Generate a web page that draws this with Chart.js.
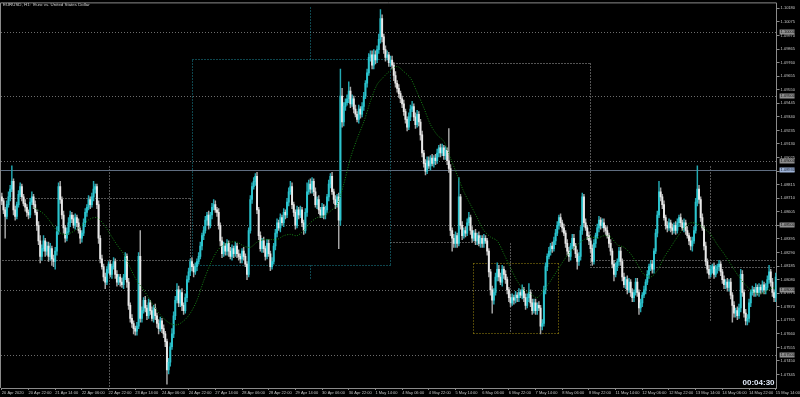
<!DOCTYPE html>
<html>
<head>
<meta charset="utf-8">
<title>EURUSD H1</title>
<script src="https://cdn.jsdelivr.net/npm/chart.js@4.4.1/dist/chart.umd.min.js"></script>
<style>
  html, body { margin: 0; padding: 0; background: #000; }
  #wrap { width: 800px; height: 397px; }
</style>
</head>
<body>
<div id="wrap"><canvas id="chart" width="800" height="397"></canvas></div>
<script>
// EURUSD H1, one close per hourly bar, from 20 Apr 2020 06:00 to 15 May 2020 14:00
const firstOpen = 1.0872;
const closes = [
  1.0869, 1.0862, 1.0857, 1.0866, 1.0872, 1.0878, 1.0884, 1.0862, 1.0857, 1.0866, 1.0874, 1.0880, 1.0872, 1.0867, 1.0864, 1.0860,
  1.0858, 1.0868, 1.0872, 1.0866, 1.0860, 1.0850, 1.0838, 1.0826, 1.0832, 1.0838, 1.0830, 1.0834, 1.0826, 1.0832, 1.0824, 1.0822,
  1.0830, 1.0845, 1.0880, 1.0870, 1.0858, 1.0848, 1.0840, 1.0845, 1.0852, 1.0858, 1.0855, 1.0850, 1.0856, 1.0852, 1.0846, 1.0840,
  1.0844, 1.0852, 1.0860, 1.0864, 1.0870, 1.0866, 1.0872, 1.0878, 1.0880, 1.0866, 1.0840, 1.0824, 1.0818, 1.0810, 1.0806, 1.0816,
  1.0820, 1.0812, 1.0818, 1.0822, 1.0812, 1.0806, 1.0810, 1.0806, 1.0804, 1.0810, 1.0826, 1.0806, 1.0788, 1.0778, 1.0774, 1.0770,
  1.0768, 1.0772, 1.0826, 1.0778, 1.0784, 1.0792, 1.0786, 1.0780, 1.0790, 1.0784, 1.0778, 1.0786, 1.0780, 1.0774, 1.0770, 1.0776,
  1.0770, 1.0766, 1.0760, 1.0738, 1.0744, 1.0756, 1.0766, 1.0780, 1.0792, 1.0800, 1.0790, 1.0798, 1.0788, 1.0784, 1.0794, 1.0808,
  1.0814, 1.0822, 1.0818, 1.0814, 1.0818, 1.0822, 1.0826, 1.0834, 1.0842, 1.0846, 1.0854, 1.0858, 1.0850, 1.0858, 1.0864, 1.0866,
  1.0862, 1.0860, 1.0850, 1.0838, 1.0828, 1.0834, 1.0830, 1.0836, 1.0830, 1.0826, 1.0832, 1.0828, 1.0834, 1.0828, 1.0826, 1.0824,
  1.0830, 1.0826, 1.0820, 1.0812, 1.0846, 1.0870, 1.0880, 1.0884, 1.0888, 1.0862, 1.0842, 1.0832, 1.0838, 1.0832, 1.0826, 1.0836,
  1.0828, 1.0818, 1.0822, 1.0834, 1.0844, 1.0852, 1.0848, 1.0856, 1.0852, 1.0860, 1.0858, 1.0868, 1.0876, 1.0880, 1.0866, 1.0860,
  1.0850, 1.0862, 1.0858, 1.0862, 1.0852, 1.0846, 1.0860, 1.0876, 1.0882, 1.0878, 1.0884, 1.0876, 1.0866, 1.0870, 1.0862, 1.0858,
  1.0864, 1.0858, 1.0862, 1.0872, 1.0882, 1.0888, 1.0876, 1.0870, 1.0866, 1.0872, 1.0854, 1.0950, 1.0930, 1.0942, 1.0945, 1.0948,
  1.0954, 1.0944, 1.0948, 1.0940, 1.0936, 1.0932, 1.0940, 1.0936, 1.0942, 1.0950, 1.0960, 1.0968, 1.0980, 1.0982, 1.0974, 1.0982,
  1.0978, 1.0986, 1.0994, 1.1010, 1.0996, 1.0986, 1.0980, 1.0982, 1.0976, 1.0978, 1.0974, 1.0966, 1.0960, 1.0956, 1.0952, 1.0948,
  1.0944, 1.0938, 1.0932, 1.0926, 1.0934, 1.0940, 1.0942, 1.0934, 1.0928, 1.0936, 1.0930, 1.0920, 1.0906, 1.0898, 1.0892, 1.0900,
  1.0896, 1.0902, 1.0898, 1.0902, 1.0900, 1.0906, 1.0910, 1.0906, 1.0910, 1.0904, 1.0908, 1.0900, 1.0894, 1.0846, 1.0840, 1.0836,
  1.0842, 1.0836, 1.0872, 1.0850, 1.0842, 1.0846, 1.0844, 1.0852, 1.0856, 1.0846, 1.0840, 1.0844, 1.0838, 1.0842, 1.0836, 1.0840,
  1.0836, 1.0840, 1.0838, 1.0830, 1.0814, 1.0800, 1.0792, 1.0798, 1.0810, 1.0816, 1.0810, 1.0806, 1.0816, 1.0812, 1.0808, 1.0800,
  1.0794, 1.0790, 1.0794, 1.0792, 1.0796, 1.0794, 1.0798, 1.0796, 1.0800, 1.0794, 1.0788, 1.0794, 1.0798, 1.0790, 1.0784, 1.0790,
  1.0784, 1.0788, 1.0786, 1.0772, 1.0774, 1.0800, 1.0818, 1.0826, 1.0830, 1.0834, 1.0832, 1.0838, 1.0844, 1.0850, 1.0856, 1.0852,
  1.0848, 1.0844, 1.0836, 1.0830, 1.0826, 1.0834, 1.0840, 1.0834, 1.0828, 1.0822, 1.0826, 1.0846, 1.0872, 1.0852, 1.0848, 1.0842,
  1.0838, 1.0832, 1.0822, 1.0836, 1.0842, 1.0848, 1.0854, 1.0850, 1.0852, 1.0848, 1.0846, 1.0842, 1.0836, 1.0830, 1.0820, 1.0812,
  1.0818, 1.0822, 1.0830, 1.0822, 1.0810, 1.0804, 1.0808, 1.0800, 1.0806, 1.0798, 1.0794, 1.0798, 1.0806, 1.0798, 1.0786, 1.0790,
  1.0796, 1.0800, 1.0806, 1.0812, 1.0818, 1.0820, 1.0816, 1.0830, 1.0844, 1.0858, 1.0876, 1.0872, 1.0866, 1.0856, 1.0850, 1.0848,
  1.0852, 1.0848, 1.0846, 1.0850, 1.0846, 1.0852, 1.0856, 1.0852, 1.0848, 1.0852, 1.0846, 1.0842, 1.0838, 1.0834, 1.0838, 1.0846,
  1.0868, 1.0878, 1.0870, 1.0856, 1.0848, 1.0834, 1.0822, 1.0816, 1.0812, 1.0816, 1.0818, 1.0812, 1.0816, 1.0818, 1.0820, 1.0814,
  1.0808, 1.0804, 1.0806, 1.0802, 1.0806, 1.0796, 1.0788, 1.0782, 1.0784, 1.0780, 1.0786, 1.0812, 1.0798, 1.0782, 1.0776, 1.0778,
  1.0790, 1.0798, 1.0800, 1.0798, 1.0802, 1.0798, 1.0802, 1.0800, 1.0804, 1.0800, 1.0802, 1.0808, 1.0814, 1.0806, 1.0798, 1.0794, 1.0810
];
// wick lengths in pips, above and below the candle body
const highWicks = [
  3,2,2,3,4,3,12,2,3,2,3,3,2,2,3,2,  2,3,4,2,3,2,3,4,3,4,2,3,3,4,2,3,
  3,4,3,4,2,3,2,3,4,3,2,3,3,2,3,2,   2,3,3,2,3,2,3,6,2,2,3,2,3,2,3,2,
  2,3,2,3,2,3,2,2,3,2,3,2,3,2,3,2,   2,3,3,20,3,2,3,2,3,2,3,2,3,2,3,3,
  2,3,2,2,3,3,4,3,3,5,3,2,3,2,3,3,   3,2,3,2,3,2,3,3,2,3,3,2,3,2,3,4,
  3,2,3,2,3,3,2,3,2,3,3,2,3,2,3,2,   2,3,2,2,2,3,3,3,2,3,2,3,2,3,2,3,
  3,2,3,2,3,3,2,3,2,3,2,3,3,4,3,2,   2,3,2,3,2,2,3,7,3,4,3,2,3,2,3,2,
  3,2,3,2,3,2,3,2,3,2,3,21,6,3,3,3,  7,3,3,2,3,2,3,2,3,3,2,3,3,3,3,4,
  3,3,4,7,3,2,3,3,2,3,3,2,3,2,3,2,   2,3,2,2,3,3,4,2,3,3,2,2,3,2,3,3,
  3,2,3,2,3,3,2,3,3,2,3,2,25,3,2,3,  3,2,15,2,3,2,3,3,4,2,3,2,3,2,3,2,
  2,3,2,2,2,2,3,3,3,5,3,3,3,2,3,2,   2,3,3,2,3,2,3,2,4,2,3,3,7,2,3,3,
  3,2,3,2,3,3,3,2,3,2,3,3,3,3,2,3,   2,3,2,3,3,2,3,3,2,3,3,3,3,2,3,2,
  3,2,3,3,2,3,3,2,3,3,2,3,2,3,2,3,   3,2,3,3,2,3,2,3,3,2,3,2,3,3,2,3,
  2,3,2,3,2,3,3,2,3,3,8,3,2,3,2,3,   3,2,3,2,3,3,2,3,2,3,2,3,2,3,3,3,
  3,18,3,2,3,2,3,2,3,3,2,3,3,2,3,2,  2,3,2,3,2,3,2,3,2,3,3,4,3,2,3,3,
  3,2,3,2,3,2,3,2,3,2,3,3,5,2,3,2,3
];
const lowWicks = [
  3,3,17,2,2,3,2,4,3,2,2,2,3,2,3,3,  3,2,2,3,2,4,3,5,3,2,4,3,4,3,5,4,
  6,3,2,3,3,4,3,2,2,3,3,2,3,3,2,4,   3,2,3,3,2,3,2,3,3,3,4,3,2,3,5,2,
  3,2,3,2,3,3,2,3,2,3,2,4,3,3,3,4,   3,3,2,3,3,2,3,3,2,3,2,3,3,3,4,2,
  3,3,4,11,3,3,2,3,3,2,3,3,4,3,2,3,  2,3,3,4,2,3,2,2,3,3,2,4,3,2,3,2,
  2,3,3,4,3,2,3,3,4,2,3,3,2,3,3,3,   3,3,2,4,2,2,3,2,3,3,3,2,3,3,3,2,
  2,3,2,2,3,3,2,3,2,3,3,2,3,2,3,3,   3,2,3,2,3,3,2,3,2,3,3,3,2,3,3,2,
  2,3,3,2,3,3,2,3,3,2,22,4,4,3,3,2,  3,3,2,3,2,2,3,3,2,3,2,3,2,3,3,3,
  3,2,3,3,4,3,3,2,3,3,3,4,3,3,3,3,   3,3,3,3,2,3,2,3,3,2,3,4,3,3,3,2,
  2,3,2,3,3,2,3,3,2,3,3,3,3,4,10,3,  3,3,2,3,3,2,3,2,2,3,3,2,3,3,2,3,
  3,3,2,3,4,4,10,3,2,3,3,2,3,3,3,3,  3,3,2,3,2,3,3,2,3,3,3,2,3,3,3,2,
  3,3,2,6,3,2,3,3,2,3,3,2,3,2,3,3,   3,2,3,3,4,3,2,3,3,6,3,3,3,3,2,3,
  3,3,3,2,3,2,3,3,2,3,3,2,3,3,3,5,   2,3,3,3,3,2,3,3,2,3,3,3,2,3,5,3,
  3,2,3,2,3,3,3,3,2,3,2,3,3,2,3,3,   2,3,3,2,3,2,3,3,2,3,3,2,3,3,4,2,
  2,3,3,3,2,3,3,3,3,2,3,3,2,3,3,3,   3,3,3,3,3,3,13,3,3,3,2,3,3,3,3,3,
  3,3,2,3,3,2,3,3,2,3,3,2,3,3,3,3,3
];

// moving average (bar index -> value)
const maBars = [19, 25, 29, 33, 37, 41, 45, 49, 53, 57, 61, 65, 69, 73, 77, 81, 85, 89, 93, 97,
  101, 105, 109, 113, 117, 121, 125, 129, 133, 137, 141, 145, 149, 153, 157, 161, 165, 169, 173, 177,
  181, 185, 189, 193, 197, 201, 205, 209, 213, 217, 221, 225, 229, 233, 237, 241, 245, 249, 253, 257,
  261, 265, 269, 273, 277, 281, 285, 289, 293, 297, 301, 305, 309, 313, 317, 321, 325, 329, 333, 337,
  341, 345, 349, 353, 357, 361, 365, 369, 373, 377, 381, 385, 389, 393, 397, 401, 405, 409, 413, 417,
  421, 425, 429, 433, 437, 441, 445, 449, 453, 457, 461, 464];
const maValues = [1.0864, 1.0859, 1.0853, 1.0846, 1.0843, 1.0844, 1.0847, 1.0851, 1.0855, 1.0856, 1.0851, 1.0843, 1.0835, 1.0828, 1.0817, 1.0807, 1.0800, 1.0792, 1.0784, 1.0778,
  1.0774, 1.0773, 1.0776, 1.0782, 1.0792, 1.0807, 1.0820, 1.0830, 1.0835, 1.0837, 1.0837, 1.0834, 1.0833, 1.0837, 1.0839, 1.0839, 1.0839, 1.0842, 1.0843, 1.0842,
  1.0846, 1.0852, 1.0856, 1.0857, 1.0861, 1.0866, 1.0882, 1.0902, 1.0917, 1.0930, 1.0946, 1.0959, 1.0965, 1.0970, 1.0973, 1.0969, 1.0964, 1.0953, 1.0941, 1.0928,
  1.0920, 1.0915, 1.0902, 1.0889, 1.0876, 1.0866, 1.0856, 1.0846, 1.0841, 1.0838, 1.0828, 1.0817, 1.0807, 1.0800, 1.0797, 1.0794, 1.0800, 1.0807, 1.0815, 1.0823,
  1.0830, 1.0835, 1.0839, 1.0841, 1.0840, 1.0842, 1.0841, 1.0835, 1.0833, 1.0828, 1.0820, 1.0812, 1.0810, 1.0815, 1.0825, 1.0833, 1.0841, 1.0848, 1.0852, 1.0851,
  1.0848, 1.0843, 1.0835, 1.0828, 1.0820, 1.0812, 1.0805, 1.0800, 1.0797, 1.0798, 1.0801, 1.0802];

// time axis labels, one every 16 bars
const timeLabels = ['20 Apr 2020', '20 Apr 22:00', '21 Apr 14:00', '22 Apr 06:00', '22 Apr 22:00', '23 Apr 14:00',
  '24 Apr 06:00', '24 Apr 22:00', '27 Apr 14:00', '28 Apr 06:00', '28 Apr 22:00', '29 Apr 14:00', '30 Apr 06:00',
  '30 Apr 22:00', '1 May 14:00', '4 May 06:00', '4 May 22:00', '5 May 14:00', '6 May 06:00', '6 May 22:00',
  '7 May 14:00', '8 May 06:00', '8 May 22:00', '11 May 14:00', '12 May 06:00', '12 May 22:00', '13 May 14:00',
  '14 May 06:00', '14 May 22:00', '15 May 14:00'];
const priceTicks = [1.07345, 1.07450, 1.07555, 1.07660, 1.07765, 1.07870, 1.07975, 1.08080, 1.08185, 1.08290,
  1.08395, 1.08500, 1.08605, 1.08710, 1.08815, 1.08920, 1.09025, 1.09130, 1.09235, 1.09340,
  1.09445, 1.09550, 1.09655, 1.09760, 1.09865, 1.09970, 1.10075, 1.10180];

// horizontal levels (dotted, grey label) and the solid line (blue label)
const levels = [1.10000, 1.09500, 1.09000, 1.08500, 1.08000, 1.07500];
const lineLevel = 1.08930;

// drawn objects, as [bar, price, bar, price]
const greySegments = [
  [0, 1.08710, 112.7, 1.08710], [112.7, 1.08710, 112.7, 1.08202],
  [64.2, 1.08956, 64.2, 1.0724],
  [0, 1.08235, 113.8, 1.08235],
  [232.6, 1.09756, 352.4, 1.09756], [352.4, 1.09756, 352.4, 1.08180], [232.6, 1.08374, 290.7, 1.08374],
  [352.4, 1.08233, 464.5, 1.08233], [352.4, 1.08180, 464.5, 1.08180],
  [304.5, 1.08366, 304.5, 1.07664],
  [424.3, 1.08956, 424.3, 1.07750]
];
const tealSegments = [
  [113.8, 1.09787, 232.6, 1.09787], [232.6, 1.09787, 232.6, 1.08192],
  [232.6, 1.08192, 113.8, 1.08192], [113.8, 1.08192, 113.8, 1.09787],
  [184.6, 1.10187, 184.6, 1.09787], [184.6, 1.08192, 184.6, 1.08092]
];
const oliveSegments = [
  [282.3, 1.08208, 333.2, 1.08208], [333.2, 1.08208, 333.2, 1.07669],
  [333.2, 1.07669, 282.3, 1.07669], [282.3, 1.07669, 282.3, 1.08208]
];

const pip = 0.0001;
const opens = closes.map((c, i) => i === 0 ? firstOpen : closes[i - 1]);
const isBull = closes.map((c, i) => c >= opens[i]);
const bodies = closes.map((c, i) => [Math.min(opens[i], c), Math.max(opens[i], c)]);
const wicks = closes.map((c, i) => [Math.min(opens[i], c) - lowWicks[i] * pip, Math.max(opens[i], c) + highWicks[i] * pip]);
const maData = closes.map(() => null);
maBars.forEach((b, k) => { maData[b] = maValues[k]; });

const FONT = 'Liberation Sans';

// objects, labels on the price scale, title and countdown
const mtPlugin = {
  id: 'mtObjects',
  beforeDatasetsDraw(chart) {
    const { ctx, chartArea: a, scales: { x, y } } = chart;
    const px = v => Math.round(x.getPixelForValue(v)) + 0.5;
    const py = v => Math.round(y.getPixelForValue(v)) + 0.5;
    ctx.save();
    ctx.beginPath();
    ctx.rect(a.left, a.top, a.right - a.left, a.bottom - a.top);
    ctx.clip();
    ctx.lineWidth = 1;

    ctx.setLineDash([1, 2]);
    ctx.strokeStyle = '#6c6c6c';
    levels.forEach(p => {
      ctx.beginPath(); ctx.moveTo(a.left, py(p)); ctx.lineTo(a.right, py(p)); ctx.stroke();
    });

    const drawSegs = (segs, color) => {
      ctx.strokeStyle = color;
      segs.forEach(s => {
        ctx.beginPath();
        ctx.moveTo(px(s[0]), py(s[1]));
        ctx.lineTo(px(s[2]), py(s[3]));
        ctx.stroke();
      });
    };
    drawSegs(greySegments, '#a8a8a8');
    drawSegs(tealSegments, '#1d8c9c');
    drawSegs(oliveSegments, '#a08c10');

    ctx.setLineDash([]);
    ctx.strokeStyle = '#5f6d80';
    ctx.beginPath(); ctx.moveTo(a.left, py(lineLevel)); ctx.lineTo(a.right, py(lineLevel)); ctx.stroke();
    ctx.restore();
  },
  afterDraw(chart) {
    const { ctx, chartArea: a, scales: { y } } = chart;
    ctx.save();
    // frame
    ctx.strokeStyle = '#8a8a8a';
    ctx.lineWidth = 1;
    ctx.beginPath();
    ctx.moveTo(a.left - 0.5, a.bottom);
    ctx.lineTo(a.left - 0.5, a.top - 0.5);
    ctx.lineTo(a.right, a.top - 0.5);
    ctx.stroke();

    // price boxes
    ctx.font = '4px "' + FONT + '"';
    ctx.textBaseline = 'middle';
    ctx.textAlign = 'left';
    const box = (p, fill, text) => {
      const yy = Math.round(y.getPixelForValue(p));
      ctx.fillStyle = fill;
      ctx.fillRect(a.right + 3, yy - 2.5, 15, 5);
      ctx.fillStyle = text;
      ctx.fillText(p.toFixed(5), a.right + 4, yy + 0.3);
    };
    levels.forEach(p => box(p, '#8f8f8f', '#101010'));
    box(lineLevel, '#9fb4d8', '#101828');

    // title
    ctx.fillStyle = '#d0d0d0';
    ctx.textBaseline = 'top';
    ctx.font = '4.4px "' + FONT + '"';
    ctx.fillText('EURUSD, H1:  Euro vs. United States Dollar', 3, 3);

    // bar countdown
    ctx.font = 'bold 8px "' + FONT + '"';
    ctx.textAlign = 'right';
    ctx.textBaseline = 'alphabetic';
    ctx.fillStyle = '#dfe8f7';
    ctx.fillText('00:04:30', a.right - 2, a.bottom - 3);
    ctx.restore();
  }
};

new Chart(document.getElementById('chart'), {
  type: 'bar',
  data: {
    labels: closes.map((_, i) => String(i)),
    datasets: [
      {
        type: 'line',
        data: maData,
        spanGaps: true,
        borderColor: '#168516',
        borderWidth: 1,
        borderDash: [1, 1.5],
        pointRadius: 0,
        tension: 0.3,
        order: 1
      },
      {
        data: bodies,
        grouped: false,
        barThickness: 1.3,
        minBarLength: 1,
        backgroundColor: isBull.map(b => b ? '#2cc4ce' : '#e8e8e8'),
        order: 2
      },
      {
        data: wicks,
        grouped: false,
        barThickness: 0.8,
        backgroundColor: isBull.map(b => b ? '#23a9b3' : '#a8a8a8'),
        order: 3
      }
    ]
  },
  options: {
    responsive: false,
    animation: false,
    events: [],
    layout: { padding: { left: 1, top: 1, right: 0, bottom: 0 } },
    plugins: { legend: { display: false }, tooltip: { enabled: false } },
    scales: {
      x: {
        offset: true,
        grid: { display: true, drawOnChartArea: false, drawTicks: true, tickLength: 2, color: '#8a8a8a', offset: false },
        border: { color: '#8a8a8a' },
        ticks: {
          autoSkip: false, maxRotation: 0, minRotation: 0, align: 'start', padding: 0,
          color: '#c4c4c4', font: { family: FONT, size: 4 },
          callback: v => timeLabels[v / 16]
        },
        afterBuildTicks: s => { s.ticks = timeLabels.map((_, k) => ({ value: k * 16 })); },
        afterFit: s => { s.height = 9; }
      },
      y: {
        position: 'right',
        min: 1.07241,
        max: 1.10218,
        grid: { display: true, drawOnChartArea: false, drawTicks: true, tickLength: 3, color: '#8a8a8a' },
        border: { color: '#8a8a8a' },
        ticks: {
          padding: 1, color: '#c8c8c8', font: { family: FONT, size: 4 },
          callback: v => v.toFixed(5)
        },
        afterBuildTicks: s => { s.ticks = priceTicks.map(v => ({ value: v })); },
        afterFit: s => { s.width = 23; }
      }
    }
  },
  plugins: [mtPlugin]
});
</script>
</body>
</html>
